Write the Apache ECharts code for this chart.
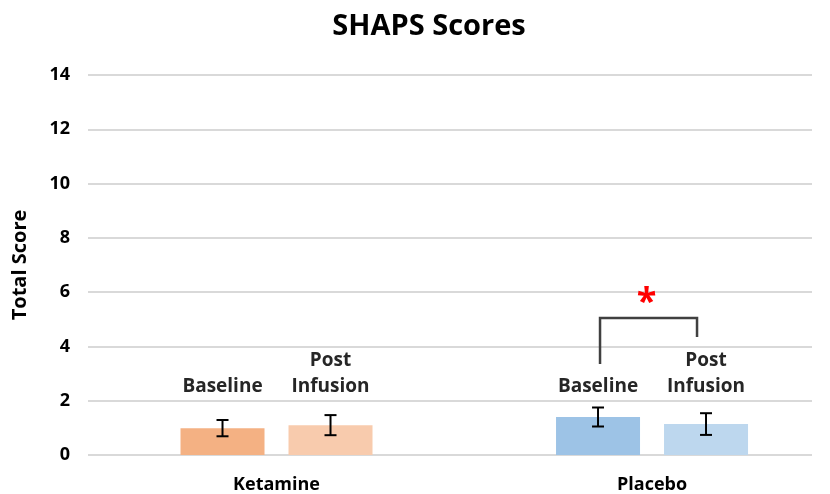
<!DOCTYPE html>
<html>
<head>
<meta charset="utf-8">
<script src="https://cdn.jsdelivr.net/npm/echarts@6/dist/echarts.min.js"></script>
<style>
  html, body { margin: 0; padding: 0; background: #fff; }
  #chart { width: 830px; height: 494px; }
</style>
</head>
<body>
<div id="chart"></div>
<script>
// data
const categories = ['Ketamine', 'Placebo']
const baseline = [0.99, 1.4]
const postInfusion = [1.1, 1.14]
const baselineErr = [0.3, 0.35]
const postErr = [0.37, 0.4]
const yTicks = [0, 2, 4, 6, 8, 10, 12, 14]
// significance bracket over Placebo: left leg bottom, top, right leg bottom, star
const bracket = [3.35, 5.05, 4.35, 5.86]

const FONT = 'Open Sans'
const BAR_W = 84
const BAR_GAP = 24
const OFFSET = (BAR_W + BAR_GAP) / 2

const colors = {
  baseline: ['#F4B183', '#9DC3E6'],
  post: ['#F8CBAD', '#BDD7EE'],
}

const chart = echarts.init(document.getElementById('chart'))

const errData = []
baseline.forEach((v, i) => errData.push([i, v, baselineErr[i], -1]))
postInfusion.forEach((v, i) => errData.push([i, v, postErr[i], 1]))

const labelData = []
categories.forEach((c, i) => {
  labelData.push([i, 2.05, 'Baseline', -1])
  labelData.push([i, 2.05, 'Post\nInfusion', 1])
})

const textStyle = (size, fill) => ({
  fontFamily: FONT,
  fontWeight: 'bold',
  fontSize: size,
  fill,
})

const option = {
  backgroundColor: '#fff',
  animation: false,
  title: {
    text: 'SHAPS Scores',
    left: 424,
    top: 7,
    textAlign: 'center',
    textStyle: { fontFamily: FONT, fontWeight: 'bold', fontSize: 29, color: '#000' },
  },
  grid: { left: 88, right: 18, top: 75, bottom: 39 },
  // categories sit at 0 and 1 on a value axis, so the pair of groups
  // can be placed off-centre like in the original
  xAxis: {
    type: 'value',
    min: -0.502,
    max: 1.426,
    show: false,
  },
  yAxis: {
    type: 'value',
    min: 0,
    max: 14,
    interval: 2,
    name: 'Total Score',
    nameLocation: 'middle',
    nameGap: 58,
    nameTextStyle: { fontFamily: FONT, fontWeight: 'bold', fontSize: 20, color: '#000' },
    axisLine: { show: false },
    axisTick: { show: false },
    axisLabel: {
      margin: 18,
      fontFamily: FONT,
      fontWeight: 'bold',
      fontSize: 18,
      color: '#000',
      formatter: v => (yTicks.includes(v) ? String(v) : ''),
    },
    splitLine: { lineStyle: { color: '#d9d9d9', width: 2 } },
  },
  series: [
    {
      name: 'Baseline',
      type: 'bar',
      barWidth: BAR_W,
      barGap: (BAR_GAP / BAR_W) * 100 + '%',
      data: baseline.map((v, i) => ({ value: [i, v], itemStyle: { color: colors.baseline[i] } })),
    },
    {
      name: 'Post Infusion',
      type: 'bar',
      barWidth: BAR_W,
      data: postInfusion.map((v, i) => ({ value: [i, v], itemStyle: { color: colors.post[i] } })),
    },
    {
      // error bars
      type: 'custom',
      data: errData,
      z: 5,
      renderItem: (params, api) => {
        const cat = api.value(0)
        const v = api.value(1)
        const e = api.value(2)
        const dx = api.value(3) * OFFSET
        const top = api.coord([cat, v + e])
        const bot = api.coord([cat, v - e])
        const x = top[0] + dx
        const cap = 6
        const style = { stroke: '#000', lineWidth: 2 }
        return {
          type: 'group',
          children: [
            { type: 'line', shape: { x1: x, y1: top[1], x2: x, y2: bot[1] }, style },
            { type: 'line', shape: { x1: x - cap, y1: top[1], x2: x + cap, y2: top[1] }, style },
            { type: 'line', shape: { x1: x - cap, y1: bot[1], x2: x + cap, y2: bot[1] }, style },
          ],
        }
      },
    },
    {
      // labels above the bars
      type: 'custom',
      data: labelData,
      renderItem: (params, api) => {
        const p = api.coord([api.value(0), api.value(1)])
        const item = labelData[params.dataIndex]
        return {
          type: 'text',
          x: p[0] + item[3] * OFFSET,
          y: p[1],
          style: {
            ...textStyle(19, '#262626'),
            text: item[2],
            lineHeight: 26,
            align: 'center',
            verticalAlign: 'bottom',
          },
        }
      },
    },
    {
      // category names under the axis
      type: 'custom',
      data: categories.map((c, i) => [i, 0]),
      renderItem: (params, api) => {
        const p = api.coord([api.value(0), api.value(1)])
        return {
          type: 'text',
          x: p[0],
          y: p[1] + 30,
          style: {
            ...textStyle(18, '#000'),
            text: categories[params.dataIndex],
            align: 'center',
            verticalAlign: 'middle',
          },
        }
      },
    },
    {
      // significance bracket for Placebo
      type: 'custom',
      data: [[1, ...bracket]],
      renderItem: (params, api) => {
        const cat = api.value(0)
        const l = api.coord([cat, api.value(1)])
        const t = api.coord([cat, api.value(2)])
        const r = api.coord([cat, api.value(3)])
        const s = api.coord([cat, api.value(4)])
        const xl = l[0] - OFFSET + 2
        const xr = l[0] + OFFSET - 9
        return {
          type: 'group',
          children: [
            {
              type: 'polyline',
              shape: { points: [[xl, l[1]], [xl, t[1]], [xr, t[1]], [xr, r[1]]] },
              style: { stroke: '#404040', lineWidth: 2.5, fill: null },
            },
            {
              type: 'text',
              x: (xl + xr) / 2 - 2,
              y: s[1] + 7,
              style: {
                ...textStyle(36, '#ff0000'),
                text: '*',
                align: 'center',
                verticalAlign: 'middle',
              },
            },
          ],
        }
      },
    },
  ],
}

chart.setOption(option)
</script>
</body>
</html>
